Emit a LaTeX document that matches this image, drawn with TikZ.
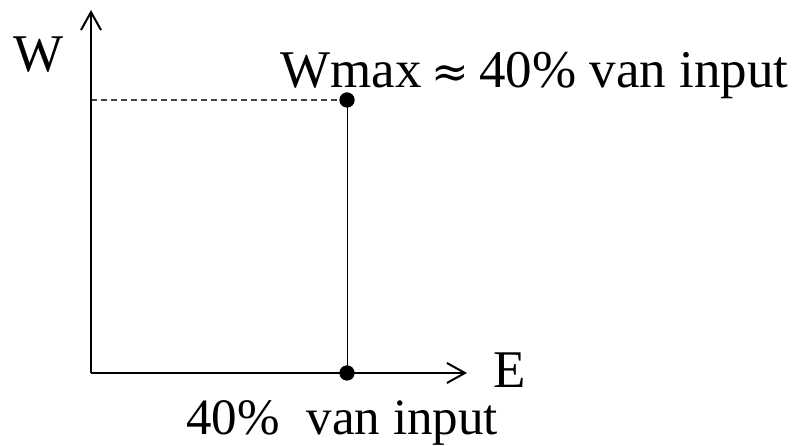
\documentclass[tikz,border=0pt]{standalone}
\usepackage{fontspec}
\setmainfont{Liberation Serif}
\newfontfamily\symfont{DejaVu Serif}
\usetikzlibrary{positioning,arrows.meta}

\begin{document}
\begin{tikzpicture}[
  x=1pt,
  y=1pt,
  dot/.style={
    circle,
    fill=black,
    inner sep=0pt,
    minimum size=15pt
  },
  axis/.style={draw=black,line width=2.2pt,-{Straight Barb[length=18pt,width=20pt,line width=2pt]}},
  guide/.style={draw=black!75,line width=1.3pt,dashed,dash pattern=on 6pt off 4pt},
  edge/.style={draw=black,line width=1pt},
  lbl/.style={font=\fontsize{53}{60}\selectfont,inner sep=0pt}
]
  \useasboundingbox (0,0) rectangle (792,446);

  \coordinate (o)  at ( 91, 73);
  \coordinate (yt) at ( 91,436);
  \coordinate (xt) at (467, 73);
  \coordinate (ym) at ( 91,346);

  \node[dot] (top) at (347,346) {};
  \node[dot] (bot) at (347, 73) {};

  \draw[guide] (ym)--(top.center);
  \draw[edge] (top.center)--(bot.center);
  \draw[axis] (o)--(yt);
  \draw[axis] (o)--(xt);

  \node[dot] at (top) {};
  \node[dot] at (bot) {};

  \node[lbl,anchor=base west] (wlbl) at ( 13,374) {W};
  \node[lbl,anchor=base west] (elbl) at (493, 58) {E};
  \node[lbl,anchor=base west] (wmax) at (280,358) {Wmax\hspace{10pt}{\symfont\fontsize{45}{50}\selectfont ≈}\hspace{10pt}40\% van input};
  \node[lbl,anchor=base west,font=\fontsize{51}{60}\selectfont] (inp) at (186, 11) {40\%\hspace{27pt}van input};
\end{tikzpicture}
\end{document}
